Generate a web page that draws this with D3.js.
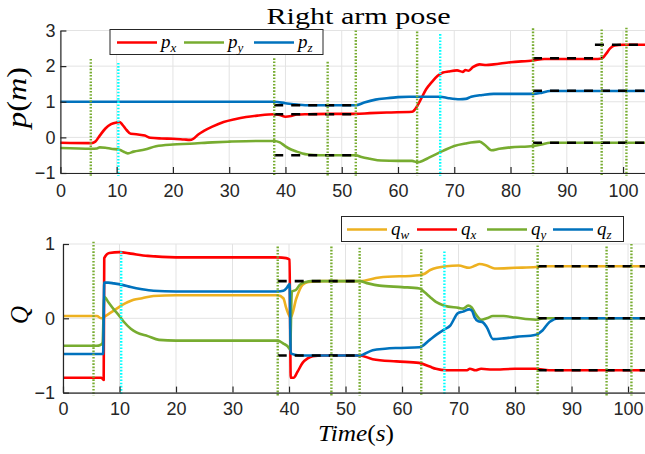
<!DOCTYPE html>
<html>
<head>
<meta charset="utf-8">
<script src="https://cdn.jsdelivr.net/npm/d3@7"></script>
<style>
  html, body { margin: 0; padding: 0; background: #fff; }
  svg { display: block; }
  .tick text { font-family: "Liberation Sans", Arial, sans-serif; font-size: 18px; fill: #262626; }
</style>
</head>
<body>
<script>
const width = 645;
const height = 454;

// ---- data ----
const xTicks = [0, 10, 20, 30, 40, 50, 60, 70, 80, 90, 100];
const pTicks = [-1, 0, 1, 2, 3];
const qTicks = [-1, 0, 1];

// top panel: position
const pxT = [0, 5.5, 6.2, 7, 8, 9, 10, 10.5, 11, 11.8, 12.5, 13.5, 15, 16, 18, 20, 22, 23, 23.6, 24.5, 25.5, 27, 29, 31, 33, 35, 38, 39, 40, 41, 42, 44, 48, 52.5, 55, 58, 62.5, 63.3, 64, 65, 66, 67, 68, 69, 70.5, 71.5, 72, 72.5, 73.3, 74.5, 75.7, 77, 80, 84, 86, 88, 95.5, 96.3, 97, 97.7, 98.5, 100, 104];
const pxV = [-0.15, -0.16, -0.12, 0.05, 0.25, 0.37, 0.42, 0.43, 0.36, 0.2, 0.1, 0.09, 0.05, -0.01, -0.03, -0.04, -0.06, -0.07, -0.04, 0.08, 0.18, 0.3, 0.43, 0.51, 0.57, 0.61, 0.65, 0.63, 0.58, 0.6, 0.64, 0.65, 0.66, 0.66, 0.68, 0.7, 0.72, 0.85, 1.05, 1.35, 1.55, 1.72, 1.82, 1.85, 1.88, 1.84, 1.89, 1.87, 1.97, 2.05, 2.03, 2.05, 2.11, 2.16, 2.2, 2.2, 2.2, 2.22, 2.35, 2.5, 2.58, 2.6, 2.6];

const pyT = [0, 5.5, 6.5, 7, 8, 9, 10.5, 11.5, 12, 13, 15, 17, 20, 23, 27, 30, 35, 38, 39, 40, 41, 42, 43, 44, 46, 52.5, 53.5, 55, 57, 60, 62.5, 63.5, 64.5, 65.5, 66.8, 68, 70, 72, 74.5, 75.5, 76.6, 78, 80, 84, 85.5, 87, 104];
const pyV = [-0.3, -0.32, -0.31, -0.28, -0.29, -0.32, -0.35, -0.42, -0.45, -0.4, -0.34, -0.25, -0.2, -0.18, -0.14, -0.12, -0.1, -0.1, -0.14, -0.25, -0.34, -0.4, -0.45, -0.48, -0.5, -0.5, -0.55, -0.6, -0.65, -0.66, -0.66, -0.7, -0.65, -0.57, -0.47, -0.38, -0.24, -0.17, -0.12, -0.22, -0.36, -0.32, -0.28, -0.24, -0.2, -0.15, -0.15];

const pzT = [0, 38, 40, 42, 43.5, 48, 52.5, 54, 56, 58, 60, 62, 64, 67.5, 69, 71, 72, 73, 75, 77, 80, 84, 85.5, 87, 90, 95, 104];
const pzV = [1, 1, 0.96, 0.92, 0.9, 0.9, 0.9, 0.98, 1.06, 1.1, 1.13, 1.14, 1.14, 1.14, 1.1, 1.07, 1.08, 1.14, 1.19, 1.22, 1.22, 1.22, 1.25, 1.3, 1.3, 1.3, 1.3];

// bottom panel: quaternion
const qwT = [0, 6, 6.8, 7.5, 8.5, 9.5, 10.5, 11.5, 12.5, 14, 16, 20, 38, 39, 39.5, 40.3, 41.3, 42.4, 43.5, 46, 52.5, 56, 63, 64, 65, 67.8, 70, 71.9, 73, 73.7, 75, 76.4, 80, 83.7, 85, 103];
const qwV = [0.03, 0.03, 0.0, 0.03, 0.08, 0.13, 0.18, 0.22, 0.25, 0.27, 0.3, 0.31, 0.31, 0.27, 0.14, 0.01, 0.27, 0.45, 0.49, 0.5, 0.5, 0.55, 0.58, 0.6, 0.65, 0.7, 0.71, 0.68, 0.71, 0.73, 0.71, 0.67, 0.68, 0.69, 0.7, 0.7];

const qxT = [0, 6.8, 7.2, 7.3, 8.2, 10, 12, 15, 20, 30, 38, 39.5, 40.1, 40.3, 40.8, 41.5, 42.4, 43.3, 44.2, 46, 52.5, 54.8, 59, 63, 64.9, 66, 67.8, 70, 71.5, 72, 73, 74, 76, 80, 83.7, 86, 103];
const qxV = [-0.8, -0.8, -0.83, 0.81, 0.88, 0.89, 0.87, 0.84, 0.82, 0.82, 0.82, 0.81, 0.79, -0.8, -0.8, -0.72, -0.6, -0.54, -0.51, -0.5, -0.5, -0.55, -0.58, -0.6, -0.65, -0.68, -0.7, -0.7, -0.7, -0.68, -0.7, -0.68, -0.69, -0.68, -0.68, -0.7, -0.7];

const qyT = [0, 6, 6.6, 7, 7.3, 8, 9, 10, 10.8, 12, 13, 15, 17, 20, 38, 39, 39.8, 40.2, 40.5, 41.2, 41.9, 43, 44, 52.5, 54, 56, 60, 63.1, 64, 64.9, 66, 67.5, 70, 70.8, 71.7, 72.3, 73, 74, 75, 76.1, 78, 80, 83.7, 85, 103];
const qyV = [-0.37, -0.37, -0.36, -0.33, 0.29, 0.22, 0.12, 0.03, -0.05, -0.14, -0.19, -0.24, -0.29, -0.3, -0.3, -0.34, -0.38, -0.42, 0.36, 0.38, 0.45, 0.49, 0.5, 0.5, 0.47, 0.44, 0.42, 0.4, 0.35, 0.29, 0.22, 0.17, 0.14, 0.13, 0.17, 0.15, 0.06, -0.02, 0.0, 0.03, 0.03, 0.01, -0.02, 0.0, 0.0];

const qzT = [0, 7.1, 7.3, 8, 9, 10.5, 12, 14, 16, 20, 38, 39, 39.6, 40.1, 40.3, 41, 42, 43, 52.5, 54.8, 57, 59, 63.1, 64.9, 66.1, 67.5, 68.5, 69.9, 70.8, 71.9, 72.4, 72.8, 73.5, 74.2, 75, 76.1, 78, 80.2, 83.7, 84.9, 86.1, 87.9, 90, 103];
const qzV = [-0.48, -0.48, 0.48, 0.48, 0.47, 0.45, 0.42, 0.39, 0.37, 0.36, 0.36, 0.37, 0.41, 0.46, -0.47, -0.49, -0.5, -0.5, -0.5, -0.43, -0.41, -0.4, -0.39, -0.29, -0.22, -0.15, -0.1, 0.07, 0.09, 0.12, 0.1, 0.02, -0.04, -0.05, -0.12, -0.28, -0.27, -0.25, -0.22, -0.16, -0.05, 0.0, 0.0, 0.0];

// black dashed targets [t0, t1, value]
const pTargets = [[38, 52.5, 0.9], [38, 52.5, 0.65], [38, 52.5, -0.5], [84, 96.3, 2.22], [95, 104, 2.6], [84, 104, 1.31], [84, 104, -0.15]];
const qTargets = [[38, 52.5, 0.5], [38, 52.5, -0.5], [84, 103, 0.7], [84, 103, 0], [84, 103, -0.7]];

// event markers
const greenT = [5.4, 38, 47.5, 52.5, 63.4, 84, 96.2, 100.6];
const cyanT = [10.3, 67.5];
const greenTopP = [2.2, 2.22, 2.12, 3.0, 2.97, 3.06, 3.03, 3.08];
const cyanTopP = [2.09, 2.9];
const greenTopQ = [1.03, 0.965, 0.965, 0.95, 0.93, 0.98, 0.965, 1.0];
const cyanTopQ = [0.9, 0.9];

const RED = "#FF0000", GREEN = "#77AC30", BLUE = "#0072BD", YELLOW = "#EDB120", CYAN = "#00FFFF";
const AXIS = "#262626", GRID = "#e3e3e3";
const SERIF = "'Liberation Serif', 'DejaVu Serif', serif";

const svg = d3.select("body").append("svg")
    .attr("width", width)
    .attr("height", height);

function zip(ts, vs) { return ts.map((t, i) => [t, vs[i]]); }

function panel(opts) {
    const x = d3.scaleLinear().domain(opts.xDomain).range(opts.xRange);
    const y = d3.scaleLinear().domain(opts.yDomain).range(opts.yRange);
    const g = svg.append("g");

    // grid
    g.selectAll(".gx").data(xTicks).enter().append("line")
        .attr("x1", d => x(d)).attr("x2", d => x(d))
        .attr("y1", opts.yRange[0]).attr("y2", opts.yRange[1])
        .attr("stroke", GRID).attr("stroke-width", 1);
    g.selectAll(".gy").data(opts.yTicks).enter().append("line")
        .attr("x1", opts.xRange[0]).attr("x2", opts.xRange[1])
        .attr("y1", d => y(d)).attr("y2", d => y(d))
        .attr("stroke", GRID).attr("stroke-width", 1);

    const line = d3.line().x(d => x(d[0])).y(d => y(d[1])).curve(d3.curveMonotoneX);
    opts.series.forEach(s => {
        g.append("path").datum(zip(s.t, s.v))
            .attr("d", line)
            .attr("fill", "none")
            .attr("stroke", s.color)
            .attr("stroke-width", 2.6)
            .attr("stroke-linejoin", "round");
    });

    // targets
    g.selectAll(".tg").data(opts.targets).enter().append("line")
        .attr("x1", d => x(d[0])).attr("x2", d => x(d[1]))
        .attr("y1", d => y(d[2])).attr("y2", d => y(d[2]))
        .attr("stroke", "#000").attr("stroke-width", 2.6)
        .attr("stroke-dasharray", "9,8");

    // event markers
    const bottom = opts.yDomain[0] - 0.02 * (opts.yDomain[1] - opts.yDomain[0]);
    g.selectAll(".ev").data(greenT).enter().append("line")
        .attr("x1", d => x(d)).attr("x2", d => x(d))
        .attr("y1", (d, i) => y(opts.greenTop[i])).attr("y2", y(bottom))
        .attr("stroke", GREEN).attr("stroke-width", 2.4)
        .attr("stroke-dasharray", "1.6,1.6");
    g.selectAll(".cy").data(cyanT).enter().append("line")
        .attr("x1", d => x(d)).attr("x2", d => x(d))
        .attr("y1", (d, i) => y(opts.cyanTop[i])).attr("y2", y(bottom))
        .attr("stroke", CYAN).attr("stroke-width", 2.4)
        .attr("stroke-dasharray", "1.6,1.6");

    // axes
    const xa = g.append("g").attr("transform", `translate(0,${opts.yRange[0]})`)
        .call(d3.axisBottom(x).tickValues(xTicks).tickFormat(d3.format("d"))
            .tickSizeInner(-6).tickSizeOuter(0).tickPadding(opts.xPad));
    const ya = g.append("g").attr("transform", `translate(${opts.xRange[0]},0)`)
        .call(d3.axisLeft(y).tickValues(opts.yTicks).tickFormat(d3.format("d"))
            .tickSizeInner(-6).tickSizeOuter(0).tickPadding(opts.yPad));
    [xa, ya].forEach(a => {
        a.select(".domain").attr("stroke", AXIS).attr("stroke-width", 1.2);
        a.selectAll(".tick line").attr("stroke", AXIS).attr("stroke-width", 1.2);
    });
    return { x, y, g };
}

panel({
    xDomain: [0, 103.9], xRange: [60.4, 645],
    yDomain: [-1, 3], yRange: [173, 30.5], yTicks: pTicks,
    xPad: 11, yPad: 5,
    series: [
        { t: pxT, v: pxV, color: RED },
        { t: pyT, v: pyV, color: GREEN },
        { t: pzT, v: pzV, color: BLUE }
    ],
    targets: pTargets, greenTop: greenTopP, cyanTop: cyanTopP
});

panel({
    xDomain: [0, 103], xRange: [63, 645],
    yDomain: [-1, 1], yRange: [392.6, 244], yTicks: qTicks,
    xPad: 10, yPad: 8,
    series: [
        { t: qwT, v: qwV, color: YELLOW },
        { t: qxT, v: qxV, color: RED },
        { t: qyT, v: qyV, color: GREEN },
        { t: qzT, v: qzV, color: BLUE }
    ],
    targets: qTargets, greenTop: greenTopQ, cyanTop: cyanTopQ
});

// legends
function legend(box, items, lineY) {
    const g = svg.append("g");
    g.append("rect").attr("x", box[0]).attr("y", box[1]).attr("width", box[2]).attr("height", box[3])
        .attr("fill", "#fff").attr("stroke", AXIS).attr("stroke-width", 1);
    items.forEach(it => {
        g.append("line").attr("x1", it.x0).attr("x2", it.x0 + 40)
            .attr("y1", lineY).attr("y2", lineY)
            .attr("stroke", it.color).attr("stroke-width", 2.6);
        const t = g.append("text").attr("x", it.x0 + 44).attr("y", lineY + 5)
            .attr("font-family", SERIF)
            .attr("font-style", "italic").attr("font-size", 19).attr("fill", "#000");
        t.append("tspan").text(it.sym);
        t.append("tspan").attr("font-size", 13).attr("dy", 4).text(it.sub);
    });
}
legend([110, 29.5, 213, 25], [
    { x0: 117, color: RED, sym: "p", sub: "x" },
    { x0: 184, color: GREEN, sym: "p", sub: "y" },
    { x0: 254, color: BLUE, sym: "p", sub: "z" }
], 42.5);
legend([341.5, 216.5, 282, 25], [
    { x0: 347, color: YELLOW, sym: "q", sub: "w" },
    { x0: 417, color: RED, sym: "q", sub: "x" },
    { x0: 487, color: GREEN, sym: "q", sub: "y" },
    { x0: 553, color: BLUE, sym: "q", sub: "z" }
], 229.5);

// title and axis labels
svg.append("text").attr("x", 266.5).attr("y", 23.5)
    .attr("font-family", SERIF).attr("font-size", 24)
    .attr("textLength", 184).attr("lengthAdjust", "spacingAndGlyphs")
    .text("Right arm pose");

const pl = svg.append("text")
    .attr("transform", "translate(26,128) rotate(-90)")
    .attr("font-family", SERIF).attr("font-size", 27)
    .attr("textLength", 61).attr("lengthAdjust", "spacingAndGlyphs");
pl.append("tspan").attr("font-style", "italic").text("p");
pl.append("tspan").text("(");
pl.append("tspan").attr("font-style", "italic").text("m");
pl.append("tspan").text(")");

svg.append("text")
    .attr("transform", "translate(28,324) rotate(-90)")
    .attr("font-family", SERIF).attr("font-size", 25).attr("font-style", "italic")
    .text("Q");

const tl = svg.append("text")
    .attr("x", 318).attr("y", 441)
    .attr("font-family", SERIF).attr("font-size", 24)
    .attr("textLength", 76).attr("lengthAdjust", "spacingAndGlyphs");
tl.append("tspan").attr("font-style", "italic").text("Time");
tl.append("tspan").text("(");
tl.append("tspan").attr("font-style", "italic").text("s");
tl.append("tspan").text(")");
</script>
</body>
</html>
